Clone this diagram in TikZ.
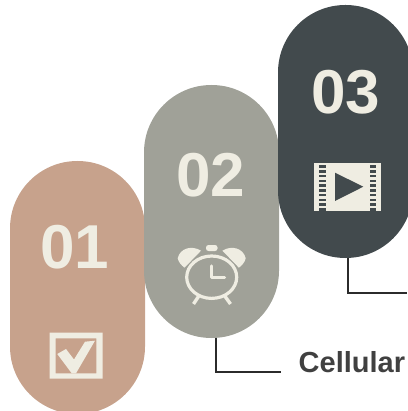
\documentclass[tikz,border=0pt]{standalone}
\usepackage{fontspec}
\setmainfont{Liberation Sans}
\definecolor{tan}{HTML}{C7A28C}
\definecolor{sage}{HTML}{A0A198}
\definecolor{slate}{HTML}{424A4D}
\definecolor{cream}{HTML}{EFEDE2}
\definecolor{ink}{HTML}{2B2B2B}
\definecolor{label}{HTML}{404040}
\tikzset{
  pill/.style={rectangle,rounded corners=67.4pt,minimum width=135pt,minimum height=253pt,inner sep=0pt,outer sep=0pt,draw=none},
  num/.style={text=cream,font=\bfseries\fontsize{62}{62}\selectfont,anchor=base,inner sep=0pt},
  conn/.style={draw=ink,line width=2pt},
  icon/.style={fill=cream,draw=none}
}
\begin{document}
\begin{tikzpicture}[x=1pt,y=-1pt]
\useasboundingbox (0,0) rectangle (407,411);
\node[pill,fill=tan] (p1) at (77.5,287.5) {};
\node[pill,fill=sage] (p2) at (211.5,211.5) {};
\node[pill,fill=slate] (p3) at (345.5,131.5) {};
\node[num] (n1) at (74.5,268) {01};
\node[num] (n2) at (210.5,196.3) {02};
\node[num] (n3) at (345.5,113.5) {03};
% checkbox
\fill[icon,even odd rule] (49.5,332.5) rectangle (102.5,378.7) (55.7,338.3) rectangle (96.3,373.3);
\fill[icon] (57.3,354) -- (66,349) -- (74,359.5) -- (85,341.7) -- (95,340.7) -- (76,373.3) -- (71.7,373.3) -- cycle;
% alarm clock
\draw[cream,line width=3.2pt] (211.7,277.2) ellipse (25 and 21.2);
\fill[icon] (177.7,258.3) .. controls (180,248) and (192,245) .. (201,250.7) -- (184.5,267.7) .. controls (181,265) and (178.5,262) .. (177.7,258.3) -- cycle;
\fill[icon] (245.7,258.3) .. controls (243.4,248) and (231.4,245) .. (222.4,250.7) -- (238.9,267.7) .. controls (242.4,265) and (244.9,262) .. (245.7,258.3) -- cycle;
\fill[icon,rounded corners=2.5pt] (206,245) rectangle (217.5,251);
\draw[cream,line width=3.4pt,line cap=round,line join=round] (211.7,266) -- (211.7,277.3) -- (224.5,277.3);
\draw[cream,line width=3.4pt] (199.5,295) -- (193.5,304);
\draw[cream,line width=3.4pt] (224,295) -- (230.5,304);
% film
\fill[icon] (314,162.7) rectangle (381.3,210.7);
\foreach \i in {0,...,9}{
  \fill[slate] (319,165.3+4.75*\i) rectangle (325.7,168+4.75*\i);
  \fill[slate] (369.7,165.3+4.75*\i) rectangle (376.3,168+4.75*\i);
}
\fill[slate] (335,172.7) -- (363.3,186.7) -- (335,201) -- cycle;
% connectors
\coordinate (e2) at (281,372);
\coordinate (e3) at (407,293.3);
\draw[conn] ([xshift=4.2pt]p2.south) |- (e2);
\draw[conn] ([xshift=2.2pt]p3.south) |- (e3);
\node[text=label,font=\bfseries\fontsize{29}{29}\selectfont,anchor=base west,inner sep=0pt] (cell) at (298.5,372.5) {Cellular};
\end{tikzpicture}
\end{document}
